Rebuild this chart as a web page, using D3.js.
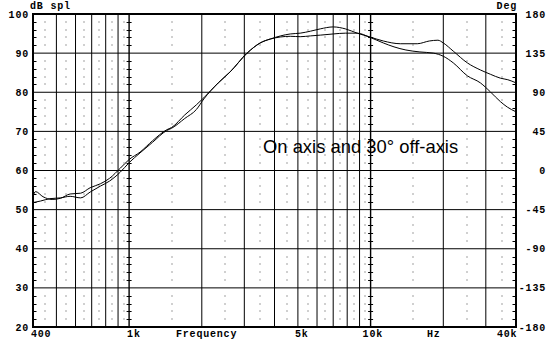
<!DOCTYPE html>
<html>
<head>
<meta charset="utf-8">
<title>On axis and 30° off-axis</title>
<script src="https://d3js.org/d3.v7.min.js"></script>
<style>
  body { margin: 0; background: #fff; }
  .lbl { font-family: "Liberation Mono", "DejaVu Sans Mono", monospace; font-weight: bold; font-size: 10px; letter-spacing: 0.8px; fill: #000; }
</style>
</head>
<body>
<svg id="chart"></svg>
<script>
// On axis response
var freqA = [400, 430, 470, 520, 570, 630, 690, 760, 830, 920, 1000, 1110, 1250, 1430, 1500, 1700, 1900, 2040, 2340, 2620, 3080, 3490, 3840,
             4650, 5110, 5630, 6190, 7000, 7860, 8800, 9970, 11290, 12500, 14000, 16000, 18200, 20000, 22000, 25160, 28480, 31330, 34470, 36850, 40000];
var splA  = [51.8, 52.2, 52.8, 53.0, 53.4, 53.0, 54.5, 56.0, 57.3, 59.6, 62.0, 64.5, 67.2, 70.2, 70.8, 73.3, 75.6, 78.3, 82.4, 85.2, 90.0, 92.6, 93.6,
             94.3, 94.2, 94.4, 94.6, 94.9, 95.1, 95.1, 94.0, 92.6, 91.6, 90.8, 90.3, 90.0, 89.2, 87.5, 84.2, 82.4, 80.1, 77.6, 76.2, 75.0];

// 30 degrees off axis
var freqB = [400, 410, 440, 480, 520, 570, 630, 690, 760, 830, 920, 1000, 1110, 1250, 1430, 1500, 1700, 1900, 2040, 2340, 2620, 3080, 3490, 3840,
             4650, 5110, 5630, 6190, 7000, 7860, 8800, 9970, 11290, 13275, 15600, 17500, 19000, 20000, 22000, 25160, 28480, 31330, 34470, 37000, 40000];
var splB  = [53.5, 54.6, 53.3, 52.6, 52.9, 54.0, 54.2, 55.6, 56.6, 58.0, 60.6, 62.8, 64.7, 67.6, 70.4, 71.0, 74.2, 76.8, 78.6, 82.4, 85.2, 90.0, 92.6, 93.6,
             94.9, 95.1, 95.6, 96.2, 96.7, 96.2, 95.1, 94.1, 93.1, 92.4, 92.4, 93.1, 93.3, 92.6, 90.5, 87.5, 85.7, 84.6, 83.6, 83.2, 82.4];

var dbTicks = [100, 90, 80, 70, 60, 50, 40, 30, 20];
var degTicks = [180, 135, 90, 45, 0, -45, -90, -135, -180];
var gridFreqs = [500, 600, 700, 800, 900, 1000, 2000, 3000, 4000, 5000, 6000, 7000, 8000, 9000, 10000, 20000, 30000];
var dotFreqs = [450, 550, 650, 750, 850, 950, 1500, 2500, 3500, 4500, 5500, 6500, 7500, 8500, 9500, 15000, 25000, 35000];
var freqLabels = [{f: 400, t: "400", dx: -2}, {f: 1000, t: "1k", dx: -2}, {f: 5000, t: "5k", dx: -3}, {f: 10000, t: "10k", dx: -8}, {f: 40000, t: "40k", dx: -19}];

var width = 550, height = 351;
var margin = {top: 14, right: 34, bottom: 24, left: 33};

var svg = d3.select("#chart")
    .attr("width", width)
    .attr("height", height);

var x = d3.scaleLog()
    .domain([400, 40000])
    .range([margin.left, width - margin.right]);

var y = d3.scaleLinear()
    .domain([20, 100])
    .range([height - margin.bottom, margin.top]);

var yDeg = d3.scaleLinear()
    .domain([-180, 180])
    .range([height - margin.bottom, margin.top]);

// 2 dB steps that are not on a 10 dB line
var minorDb = d3.range(22, 100, 2).filter(d => d % 10 !== 0);

// dotted grid
var dots = [];
dotFreqs.forEach(f => minorDb.forEach(d => dots.push([f, d])));
svg.append("g").selectAll("rect")
    .data(dots)
    .enter().append("rect")
    .attr("x", d => Math.round(x(d[0])) - 0.5)
    .attr("y", d => Math.round(y(d[1])) - 0.5)
    .attr("width", 1)
    .attr("height", 1)
    .attr("fill", "#444");

// vertical grid
svg.append("g").selectAll("line")
    .data(gridFreqs)
    .enter().append("line")
    .attr("x1", d => x(d))
    .attr("x2", d => x(d))
    .attr("y1", y(20))
    .attr("y2", y(100))
    .attr("stroke", "#000")
    .attr("stroke-width", d => (d === 1000 || d === 10000) ? 1.4 : 1);

// horizontal grid
svg.append("g").selectAll("line")
    .data(dbTicks.filter(d => d > 20 && d < 100))
    .enter().append("line")
    .attr("x1", x(400))
    .attr("x2", x(40000))
    .attr("y1", d => y(d))
    .attr("y2", d => y(d))
    .attr("stroke", "#000")
    .attr("stroke-width", 1);

// small ticks on axes and on the 1k / 10k lines
var ticks = [];
minorDb.forEach(d => {
    ticks.push([x(400), x(400) + 3.5, d]);
    ticks.push([x(40000) - 3.5, x(40000), d]);
    ticks.push([x(1000) - 2.5, x(1000) + 2.5, d]);
    ticks.push([x(10000) - 2.5, x(10000) + 2.5, d]);
});
svg.append("g").selectAll("line")
    .data(ticks)
    .enter().append("line")
    .attr("x1", d => d[0])
    .attr("x2", d => d[1])
    .attr("y1", d => Math.round(y(d[2])) + 0.5)
    .attr("y2", d => Math.round(y(d[2])) + 0.5)
    .attr("stroke", "#000")
    .attr("stroke-width", 1);

// frame
svg.append("rect")
    .attr("x", x(400))
    .attr("y", y(100))
    .attr("width", x(40000) - x(400))
    .attr("height", y(20) - y(100))
    .attr("fill", "none")
    .attr("stroke", "#000")
    .attr("stroke-width", 2);

// curves
var line = d3.line()
    .x(d => x(d[0]))
    .y(d => y(d[1]))
    .curve(d3.curveMonotoneX);

[[freqA, splA], [freqB, splB]].forEach(function(s) {
    svg.append("path")
        .datum(s[0].map((f, i) => [f, s[1][i]]))
        .attr("fill", "none")
        .attr("stroke", "#000")
        .attr("stroke-width", 1)
        .attr("d", line);
});

// left axis labels
svg.append("g").selectAll("text")
    .data(dbTicks)
    .enter().append("text")
    .attr("class", "lbl")
    .attr("x", x(400) - 4)
    .attr("y", d => y(d) + 3.5)
    .attr("text-anchor", "end")
    .text(d => d);

// right axis labels
svg.append("g").selectAll("text")
    .data(degTicks)
    .enter().append("text")
    .attr("class", "lbl")
    .attr("x", 546)
    .attr("y", d => yDeg(d) + 3.5)
    .attr("text-anchor", "end")
    .text(d => d);

// bottom labels
svg.append("g").selectAll("text")
    .data(freqLabels)
    .enter().append("text")
    .attr("class", "lbl")
    .attr("x", d => x(d.f) + d.dx)
    .attr("y", 337)
    .text(d => d.t);

svg.append("text").attr("class", "lbl").attr("x", 176).attr("y", 337).text("Frequency");
svg.append("text").attr("class", "lbl").attr("x", 427).attr("y", 337).text("Hz");
svg.append("text").attr("class", "lbl").attr("x", 30).attr("y", 8.5).text("dB spl");
svg.append("text").attr("class", "lbl").attr("x", 517).attr("y", 9).attr("text-anchor", "end").text("Deg");

// annotation
svg.append("text")
    .attr("x", 263)
    .attr("y", 153)
    .attr("font-family", "Liberation Sans, Arial, sans-serif")
    .attr("font-size", "18.4px")
    .attr("fill", "#000")
    .text("On axis and 30° off-axis");
</script>
</body>
</html>
